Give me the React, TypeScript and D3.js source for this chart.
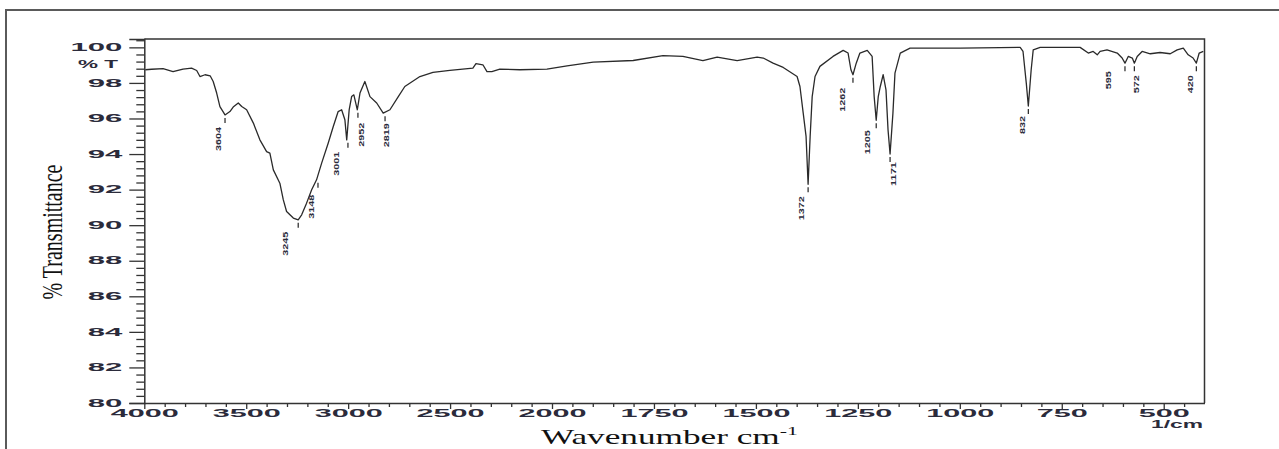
import * as d3 from "d3";
import { useEffect, useRef } from "react";

// IR spectrum trace (wavenumber in 1/cm, % transmittance)
const wavenumbers = [
  3995, 3964, 3908, 3859, 3810, 3768, 3743, 3727, 3702, 3677, 3662, 3645, 3629,
  3604, 3580, 3564, 3539, 3522, 3498, 3465, 3433, 3400, 3384, 3367, 3335, 3318,
  3302, 3269, 3245, 3228, 3204, 3179, 3155, 3130, 3098, 3073, 3049, 3032, 3016,
  3007, 2995, 2983, 2972, 2955, 2942, 2918, 2893, 2860, 2828, 2795, 2754, 2722,
  2648, 2584, 2501, 2388, 2373, 2339, 2319, 2295, 2256, 2158, 2025, 1963, 1899,
  1801, 1728, 1679, 1630, 1595, 1546, 1497, 1482, 1458, 1433, 1399, 1392, 1384,
  1377, 1372, 1367, 1362, 1355, 1343, 1311, 1286, 1274, 1267, 1262, 1254, 1245,
  1227, 1215, 1210, 1205, 1200, 1195, 1188, 1181, 1176, 1171, 1164, 1159, 1146,
  1122, 999, 901, 852, 845, 837, 832, 825, 820, 803, 705, 685, 673, 663, 656,
  639, 614, 602, 595, 587, 577, 572, 565, 553, 533, 509, 484, 467, 452, 440, 428,
  420, 413, 403,
];
const transmittance = [
  98.74, 98.77, 98.8, 98.64, 98.78, 98.83, 98.7, 98.36, 98.46, 98.4, 98.08,
  97.43, 96.67, 96.2, 96.39, 96.64, 96.87, 96.67, 96.49, 95.74, 94.8, 94.14,
  94.05, 93.11, 92.36, 91.42, 90.77, 90.4, 90.3, 90.58, 91.24, 91.99, 92.55,
  93.49, 94.61, 95.55, 96.39, 96.49, 95.93, 94.8, 96.49, 97.23, 97.33, 96.49,
  97.43, 98.08, 97.23, 96.87, 96.3, 96.49, 97.23, 97.8, 98.36, 98.59, 98.7,
  98.83, 99.08, 99.02, 98.64, 98.64, 98.78, 98.74, 98.78, 98.96, 99.17, 99.26,
  99.53, 99.49, 99.25, 99.45, 99.26, 99.45, 99.4, 99.11, 98.87, 98.36, 97.8,
  96.3, 94.99, 92.3, 94.99, 97.23, 98.36, 98.93, 99.49, 99.83, 99.68, 98.74,
  98.46, 99.11, 99.68, 99.83, 99.49, 97.23, 95.9, 97.23, 97.8, 98.46, 97.61,
  95.36, 94.0, 96.3, 98.55, 99.68, 99.96, 99.96, 99.98, 100.0, 99.77, 97.99,
  96.7, 98.74, 99.86, 100.0, 100.0, 99.68, 99.77, 99.58, 99.77, 99.86, 99.68,
  99.4, 99.11, 99.49, 99.4, 99.11, 99.49, 99.77, 99.64, 99.71, 99.64, 99.86,
  99.96, 99.58, 99.4, 99.11, 99.68, 99.77,
];

// marked peaks
const peakWavenumbers = [3604, 3245, 3148, 3001, 2952, 2819, 1372, 1262, 1205, 1171, 832, 595, 572, 420];
const peakLabels = ["3604", "3245", "3148", "3001", "2952", "2819", "1372", "1262", "1205", "1171", "832", "595", "572", "420"];

// axis ticks
const xMajorTicks = [4000, 3500, 3000, 2500, 2000, 1750, 1500, 1250, 1000, 750, 500];
const yMajorTicks = [80, 82, 84, 86, 88, 90, 92, 94, 96, 98, 100];

// label placement relative to the peak (px)
const labelNudge = [
  [-7, 12], [-13, 12], [-6, 15], [-11, 12], [4, 13], [1, 10], [-7, 12],
  [-10, 13], [-9, 10], [3, 8], [-6, 10], [-16, 8], [2, 12], [-6, 12],
];

const W = 1279;
const H = 449;

function App() {
  const ref = useRef<SVGSVGElement>(null);

  useEffect(() => {
    const svg = d3.select(ref.current);
    svg.selectAll("*").remove();

    const ink = "#333";
    const labelInk = "#2b2b3b";

    // 4000-2000 is drawn at half the scale of 2000-400
    const x = d3.scaleLinear().domain([4000, 2000, 400]).range([144.3, 552, 1204.5]);
    const y = d3.scaleLinear().domain([80, 100.47]).range([403, 39]);

    // outer frame (top and left edge only visible)
    svg.append("path")
      .attr("d", `M6,${H} L6,10 L${W},10`)
      .attr("fill", "none")
      .attr("stroke", "#5a5a5a")
      .attr("stroke-width", 2);

    // plot frame top and right
    svg.append("path")
      .attr("d", `M${x(4000)},${y.range()[1]} L${x(400)},${y.range()[1]} L${x(400)},${y(80)}`)
      .attr("fill", "none")
      .attr("stroke", ink)
      .attr("stroke-width", 1.5);

    // y axis minor ticks
    const yMinor = d3.range(80, 100.5, 0.4).filter((v) => Math.abs(v / 2 - Math.round(v / 2)) > 0.01);
    svg.append("g")
      .attr("transform", `translate(${x(4000)},0)`)
      .call(d3.axisLeft(y).tickValues(yMinor).tickSize(8).tickFormat(() => ""))
      .call((g) => g.select(".domain").remove())
      .selectAll("line").attr("stroke", ink).attr("stroke-width", 1.3);

    // y axis major ticks
    const yAxis = svg.append("g")
      .attr("transform", `translate(${x(4000)},0)`)
      .call(d3.axisLeft(y).tickValues(yMajorTicks).tickSize(15).tickPadding(7).tickFormat(d3.format("d")));
    yAxis.select(".domain").attr("stroke", ink).attr("stroke-width", 1.5);
    yAxis.selectAll("line").attr("stroke", ink).attr("stroke-width", 1.3);
    yAxis.selectAll("text")
      .attr("font-family", "Arial, 'Liberation Sans', sans-serif")
      .attr("font-weight", "bold")
      .attr("font-size", 10)
      .attr("fill", labelInk)
      .attr("lengthAdjust", "spacingAndGlyphs")
      .attr("textLength", (d: any) => String(d).length * 17.3);

    // "% T" marker next to the y axis
    svg.append("text")
      .attr("x", 118)
      .attr("y", y(99))
      .attr("dy", "0.32em")
      .attr("text-anchor", "end")
      .attr("font-family", "Arial, 'Liberation Sans', sans-serif")
      .attr("font-weight", "bold")
      .attr("font-size", 10)
      .attr("fill", labelInk)
      .attr("lengthAdjust", "spacingAndGlyphs")
      .attr("textLength", 40)
      .text("% T");

    // x axis minor ticks
    const xMinor = d3.range(3900, 2000, -100)
      .concat(d3.range(1950, 400, -50))
      .filter((v) => !xMajorTicks.includes(v));
    svg.append("g")
      .attr("transform", `translate(0,${y(80)})`)
      .call(d3.axisBottom(x).tickValues(xMinor).tickSize(4).tickFormat(() => ""))
      .call((g) => g.select(".domain").remove())
      .selectAll("line").attr("stroke", ink).attr("stroke-width", 1.3);

    // x axis major ticks
    const xAxis = svg.append("g")
      .attr("transform", `translate(0,${y(80)})`)
      .call(d3.axisBottom(x).tickValues(xMajorTicks).tickSize(6).tickPadding(1).tickSizeOuter(0).tickFormat(d3.format("d")));
    xAxis.select(".domain").attr("stroke", ink).attr("stroke-width", 1.5);
    xAxis.selectAll("line").attr("stroke", ink).attr("stroke-width", 1.3);
    xAxis.selectAll("text")
      .attr("font-family", "Arial, 'Liberation Sans', sans-serif")
      .attr("font-weight", "bold")
      .attr("font-size", 10)
      .attr("fill", labelInk)
      .attr("lengthAdjust", "spacingAndGlyphs")
      .attr("textLength", (d: any) => String(d).length * 17);

    // unit under the last tick label
    svg.append("text")
      .attr("x", 1177)
      .attr("y", 428)
      .attr("text-anchor", "middle")
      .attr("font-family", "Arial, 'Liberation Sans', sans-serif")
      .attr("font-weight", "bold")
      .attr("font-size", 10)
      .attr("fill", labelInk)
      .attr("lengthAdjust", "spacingAndGlyphs")
      .attr("textLength", 52)
      .text("1/cm");

    // spectrum line
    const points = wavenumbers.map((w, i) => ({ w, t: transmittance[i] }));
    const line = d3.line<{ w: number; t: number }>()
      .x((d) => x(d.w))
      .y((d) => y(d.t))
      .curve(d3.curveLinear);
    svg.append("path")
      .datum(points)
      .attr("fill", "none")
      .attr("stroke", "#2a2a2a")
      .attr("stroke-width", 1.3)
      .attr("stroke-linejoin", "round")
      .attr("d", line);

    // peak marks and labels
    peakWavenumbers.forEach((pw, i) => {
      const nearest = d3.least(points, (p) => Math.abs(p.w - pw))!;
      const px = x(pw);
      const py = y(nearest.t);
      const [dx, dy] = labelNudge[i];
      svg.append("line")
        .attr("x1", px)
        .attr("x2", px)
        .attr("y1", py + 3)
        .attr("y2", py + 8)
        .attr("stroke", "#222")
        .attr("stroke-width", 1.2);
      svg.append("text")
        .attr("transform", `translate(${px + dx},${py + dy}) rotate(-90)`)
        .attr("text-anchor", "end")
        .attr("dominant-baseline", "central")
        .attr("font-family", "Arial, 'Liberation Sans', sans-serif")
        .attr("font-weight", "bold")
        .attr("font-size", 7)
        .attr("fill", labelInk)
        .attr("lengthAdjust", "spacingAndGlyphs")
        .attr("textLength", peakLabels[i].length * 6)
        .text(peakLabels[i]);
    });

    // y axis title
    svg.append("text")
      .attr("transform", "translate(52,232) scale(1.5,1) rotate(-90)")
      .attr("text-anchor", "middle")
      .attr("dominant-baseline", "central")
      .attr("font-family", "'Times New Roman', 'Liberation Serif', serif")
      .attr("font-size", 20)
      .attr("fill", "#111")
      .text("% Transmittance");

    // x axis title, stretched like the original
    const xTitle = svg.append("text")
      .attr("font-family", "'Times New Roman', 'Liberation Serif', serif")
      .attr("font-size", 21)
      .attr("fill", "#111");
    xTitle.append("tspan").text("Wavenumber cm");
    xTitle.append("tspan").attr("font-size", 13).attr("dy", -9).text("-1");
    const natural = (xTitle.node() as SVGTextElement).getComputedTextLength();
    const sx = 257 / natural;
    xTitle.attr("transform", `translate(541,444) scale(${sx},1)`);
  }, []);

  return (
    <svg
      ref={ref}
      width={W}
      height={H}
      style={{ position: "absolute", left: 0, top: 0, background: "#fff" }}
    />
  );
}

export default App;
